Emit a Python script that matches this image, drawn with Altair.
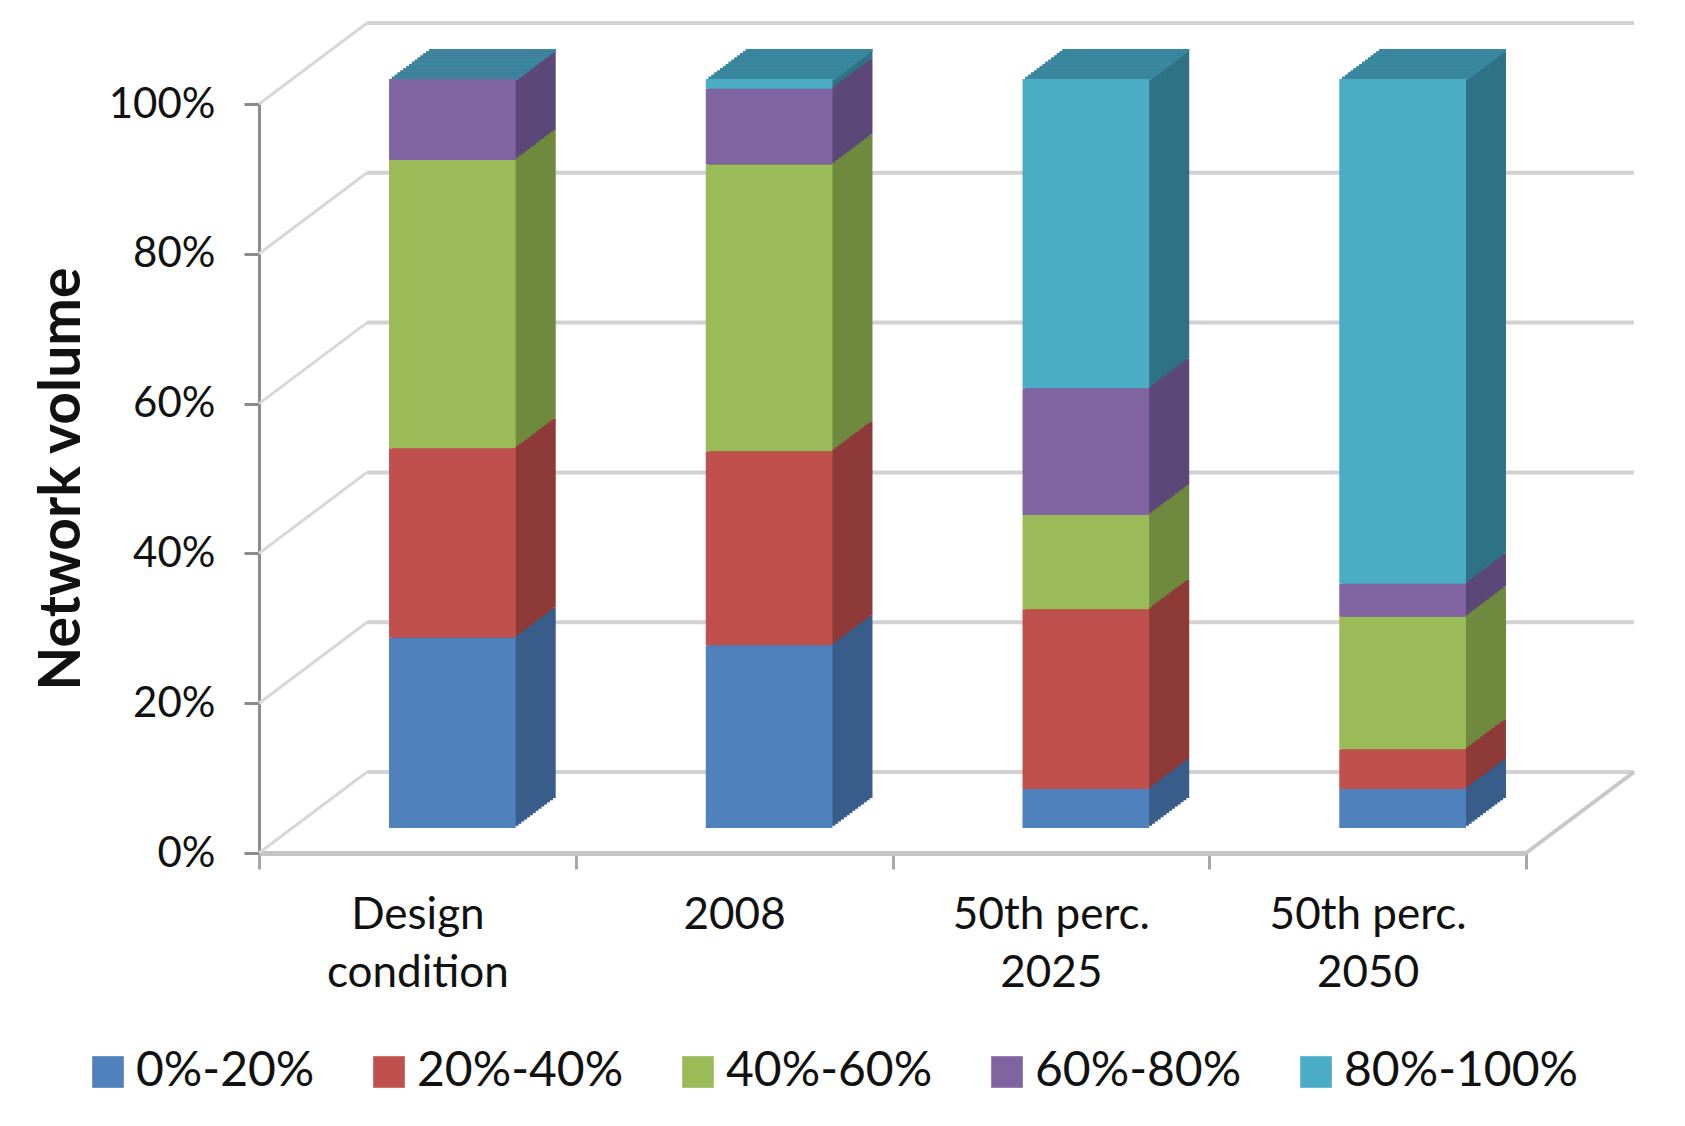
import altair as alt
import pandas as pd

# ---- data ----
categories = ["Design condition", "2008", "50th perc. 2025", "50th perc. 2050"]
series = ["0%-20%", "20%-40%", "40%-60%", "60%-80%", "80%-100%"]
v_0_20 = [25.4, 24.4, 5.2, 5.2]
v_20_40 = [25.3, 25.9, 24.0, 5.3]
v_40_60 = [38.5, 38.3, 12.6, 17.7]
v_60_80 = [10.8, 10.1, 16.9, 4.4]
v_80_100 = [0.0, 1.3, 41.3, 67.4]
y_ticks = [0, 0.2, 0.4, 0.6, 0.8, 1.0]

# ---- styles ----
front_colors = ["#4F81BD", "#C0504D", "#9BBB59", "#8064A2", "#4BACC6"]
side_colors = ["#385D8A", "#8E3A38", "#6F8A3E", "#5C4878", "#2F7286"]
top_color = "#3A89A0"
FONT = "Lato"
W, H = 1267, 749
BAR_DX, BAR_DY = 35, 25        # front face offset from the front plane
DEPTH_X, DEPTH_Y = 40, 30      # bar depth
WALL_DX, WALL_DY = 108, 81     # back wall offset from the front plane
N_STEPS = 14
BAR_BAND = 0.4

rows = []
for si, (s, vals) in enumerate(zip(series, [v_0_20, v_20_40, v_40_60, v_60_80, v_80_100])):
    for c, v in zip(categories, vals):
        rows.append({"category": c, "series": s, "order": si, "value": v / 100.0})
df = pd.DataFrame(rows)
tops = df.groupby("category", as_index=False)["value"].sum().rename(columns={"value": "total"})
ticks_df = pd.DataFrame({"tick": y_ticks})

yscale = alt.Scale(domain=[0, 1])
xscale = alt.Scale(domain=categories, paddingInner=0, paddingOuter=0)

x_axis = alt.Axis(
    title=None, labelAngle=0, labelFont=FONT, labelFontSize=44, labelColor="#111111",
    labelLineHeight=58, labelPadding=24, labelLimit=0, tickSize=16, tickBand="extent",
    tickColor="#A8A8A8", tickWidth=3, domainColor="#C4C4C4", domainWidth=5,
    labelExpr="lastindexof(datum.label, ' ') > 0 ? [substring(datum.label, 0, lastindexof(datum.label, ' ')), substring(datum.label, lastindexof(datum.label, ' ') + 1)] : datum.label",
)
y_axis = alt.Axis(
    values=y_ticks, format=".0%", grid=False, labelFont=FONT, labelFontSize=42,
    labelColor="#111111", labelPadding=29, tickSize=15, tickColor="#8C8C8C",
    tickWidth=3, domainColor="#8C8C8C", domainWidth=3,
    title="Network volume", titleFont=FONT, titleFontSize=57, titleFontWeight="bold",
    titleColor="#111111", titleX=-197, titleY=H / 2, titleAngle=270,
    titleAlign="center", titleBaseline="middle",
)

x_enc = alt.X("category:N", scale=xscale, sort=categories, axis=x_axis)

# back wall gridlines
grid_back = alt.Chart(ticks_df).mark_rule(
    color="#D2D2D2", strokeWidth=4, yOffset=-WALL_DY, y2Offset=-WALL_DY
).encode(
    y=alt.Y("tick:Q", scale=yscale, axis=y_axis),
    y2="tick:Q",
    x=alt.value(WALL_DX),
    x2=alt.value(W + WALL_DX),
)
# left wall diagonals
grid_diag = alt.Chart(ticks_df).mark_rule(
    color="#D8D8D8", strokeWidth=3, y2Offset=-WALL_DY
).encode(
    y=alt.Y("tick:Q", scale=yscale, axis=y_axis),
    y2="tick:Q",
    x=alt.value(0),
    x2=alt.value(WALL_DX),
)
# floor right edge
floor_right = alt.Chart(ticks_df).transform_filter("datum.tick == 0").mark_rule(
    color="#C8C8C8", strokeWidth=4, y2Offset=-WALL_DY
).encode(
    y=alt.Y("tick:Q", scale=yscale, axis=y_axis),
    y2="tick:Q",
    x=alt.value(W),
    x2=alt.value(W + WALL_DX),
)

layers = [grid_back, grid_diag, floor_right]

# depth layers (far to near) forming the side and top faces
for k in range(N_STEPS, 0, -1):
    dx = BAR_DX + DEPTH_X * k / N_STEPS
    dy = BAR_DY + DEPTH_Y * k / N_STEPS
    step = DEPTH_Y / N_STEPS
    side = alt.Chart(df).mark_bar(
        width=alt.RelativeBandSize(BAR_BAND),
        xOffset=dx, x2Offset=dx, yOffset=-dy, y2Offset=-dy
    ).encode(
        x=x_enc,
        y=alt.Y("value:Q", stack="zero", scale=yscale, axis=y_axis),
        color=alt.Color("series:N", scale=alt.Scale(domain=series, range=side_colors), legend=None),
        order=alt.Order("order:Q"),
    )
    cap = alt.Chart(tops).mark_bar(
        width=alt.RelativeBandSize(BAR_BAND),
        color=top_color, xOffset=dx, x2Offset=dx, yOffset=-dy, y2Offset=-dy + step + 1
    ).encode(
        x=x_enc,
        y=alt.Y("total:Q", scale=yscale, axis=y_axis),
        y2="total:Q",
    )
    layers += [side, cap]

front = alt.Chart(df).mark_bar(
    width=alt.RelativeBandSize(BAR_BAND),
    xOffset=BAR_DX, x2Offset=BAR_DX, yOffset=-BAR_DY, y2Offset=-BAR_DY
).encode(
    x=x_enc,
    y=alt.Y("value:Q", stack="zero", scale=yscale, axis=y_axis),
    color=alt.Color(
        "series:N", scale=alt.Scale(domain=series, range=front_colors),
        legend=alt.Legend(
            title=None, orient="none", legendX=-175, legendY=944, direction="horizontal",
            symbolType="square", symbolSize=1000, symbolStrokeWidth=0, labelFont=FONT,
            labelFontSize=48, labelColor="#111111", labelOffset=4, columnPadding=50,
            padding=0, labelLimit=0,
        ),
    ),
    order=alt.Order("order:Q"),
)
layers.append(front)

chart = alt.layer(*layers).resolve_scale(color="independent").properties(
    width=W, height=H,
    autosize=alt.AutoSizeParams(type="none"),
    padding={"left": 251, "top": 96, "right": 151, "bottom": 265},
).configure_view(strokeWidth=0)

chart.save("out.html", embed_options={"renderer": "svg", "actions": False})
